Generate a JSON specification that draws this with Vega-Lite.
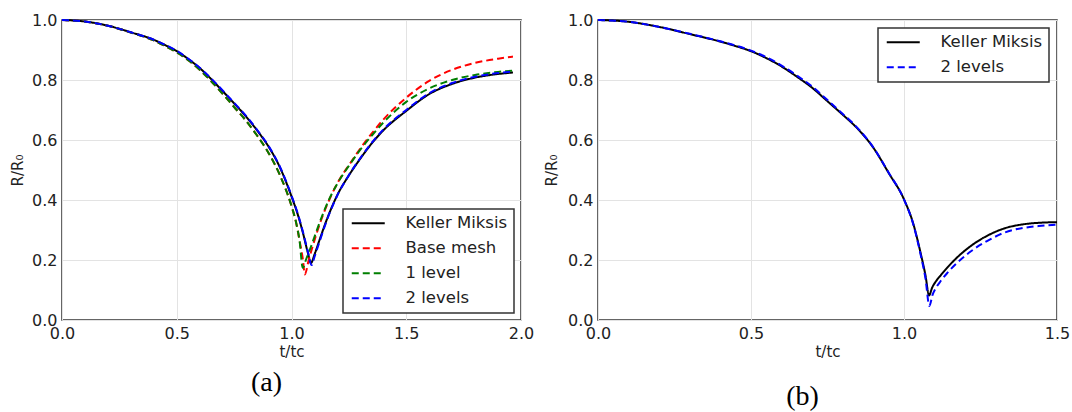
{
  "$schema": "https://vega.github.io/schema/vega-lite/v6.json",
  "background": "white",
  "padding": {"left": 9, "top": 11, "right": 5, "bottom": 2},
  "bounds": "flush",
  "spacing": 77,
  "datasets": {
    "left": [
      {"t": 0.0, "r": 1.0, "series": "Keller Miksis"},
      {"t": 0.1, "r": 0.995, "series": "Keller Miksis"},
      {"t": 0.2, "r": 0.981, "series": "Keller Miksis"},
      {"t": 0.3, "r": 0.959, "series": "Keller Miksis"},
      {"t": 0.4, "r": 0.934, "series": "Keller Miksis"},
      {"t": 0.45, "r": 0.916, "series": "Keller Miksis"},
      {"t": 0.5, "r": 0.896, "series": "Keller Miksis"},
      {"t": 0.55, "r": 0.870, "series": "Keller Miksis"},
      {"t": 0.6, "r": 0.840, "series": "Keller Miksis"},
      {"t": 0.65, "r": 0.803, "series": "Keller Miksis"},
      {"t": 0.7, "r": 0.763, "series": "Keller Miksis"},
      {"t": 0.75, "r": 0.722, "series": "Keller Miksis"},
      {"t": 0.8, "r": 0.680, "series": "Keller Miksis"},
      {"t": 0.85, "r": 0.632, "series": "Keller Miksis"},
      {"t": 0.9, "r": 0.578, "series": "Keller Miksis"},
      {"t": 0.95, "r": 0.508, "series": "Keller Miksis"},
      {"t": 1.0, "r": 0.412, "series": "Keller Miksis"},
      {"t": 1.03, "r": 0.345, "series": "Keller Miksis"},
      {"t": 1.05, "r": 0.29, "series": "Keller Miksis"},
      {"t": 1.07, "r": 0.228, "series": "Keller Miksis"},
      {"t": 1.085, "r": 0.19, "series": "Keller Miksis"},
      {"t": 1.1, "r": 0.218, "series": "Keller Miksis"},
      {"t": 1.12, "r": 0.262, "series": "Keller Miksis"},
      {"t": 1.15, "r": 0.327, "series": "Keller Miksis"},
      {"t": 1.2, "r": 0.417, "series": "Keller Miksis"},
      {"t": 1.25, "r": 0.482, "series": "Keller Miksis"},
      {"t": 1.3, "r": 0.538, "series": "Keller Miksis"},
      {"t": 1.35, "r": 0.589, "series": "Keller Miksis"},
      {"t": 1.4, "r": 0.632, "series": "Keller Miksis"},
      {"t": 1.5, "r": 0.697, "series": "Keller Miksis"},
      {"t": 1.6, "r": 0.753, "series": "Keller Miksis"},
      {"t": 1.7, "r": 0.787, "series": "Keller Miksis"},
      {"t": 1.8, "r": 0.808, "series": "Keller Miksis"},
      {"t": 1.9, "r": 0.820, "series": "Keller Miksis"},
      {"t": 1.965, "r": 0.825, "series": "Keller Miksis"},

      {"t": 0.0, "r": 1.0, "series": "Base mesh"},
      {"t": 0.1, "r": 0.995, "series": "Base mesh"},
      {"t": 0.2, "r": 0.981, "series": "Base mesh"},
      {"t": 0.3, "r": 0.958, "series": "Base mesh"},
      {"t": 0.4, "r": 0.932, "series": "Base mesh"},
      {"t": 0.45, "r": 0.913, "series": "Base mesh"},
      {"t": 0.5, "r": 0.892, "series": "Base mesh"},
      {"t": 0.55, "r": 0.866, "series": "Base mesh"},
      {"t": 0.6, "r": 0.834, "series": "Base mesh"},
      {"t": 0.65, "r": 0.796, "series": "Base mesh"},
      {"t": 0.7, "r": 0.754, "series": "Base mesh"},
      {"t": 0.75, "r": 0.710, "series": "Base mesh"},
      {"t": 0.8, "r": 0.666, "series": "Base mesh"},
      {"t": 0.85, "r": 0.615, "series": "Base mesh"},
      {"t": 0.9, "r": 0.557, "series": "Base mesh"},
      {"t": 0.95, "r": 0.482, "series": "Base mesh"},
      {"t": 1.0, "r": 0.38, "series": "Base mesh"},
      {"t": 1.02, "r": 0.325, "series": "Base mesh"},
      {"t": 1.035, "r": 0.265, "series": "Base mesh"},
      {"t": 1.05, "r": 0.20, "series": "Base mesh"},
      {"t": 1.058, "r": 0.152, "series": "Base mesh"},
      {"t": 1.075, "r": 0.20, "series": "Base mesh"},
      {"t": 1.09, "r": 0.24, "series": "Base mesh"},
      {"t": 1.13, "r": 0.335, "series": "Base mesh"},
      {"t": 1.17, "r": 0.41, "series": "Base mesh"},
      {"t": 1.2, "r": 0.456, "series": "Base mesh"},
      {"t": 1.26, "r": 0.527, "series": "Base mesh"},
      {"t": 1.3, "r": 0.572, "series": "Base mesh"},
      {"t": 1.35, "r": 0.622, "series": "Base mesh"},
      {"t": 1.4, "r": 0.668, "series": "Base mesh"},
      {"t": 1.5, "r": 0.741, "series": "Base mesh"},
      {"t": 1.6, "r": 0.797, "series": "Base mesh"},
      {"t": 1.7, "r": 0.834, "series": "Base mesh"},
      {"t": 1.8, "r": 0.857, "series": "Base mesh"},
      {"t": 1.9, "r": 0.871, "series": "Base mesh"},
      {"t": 1.965, "r": 0.878, "series": "Base mesh"},

      {"t": 0.0, "r": 1.0, "series": "1 level"},
      {"t": 0.1, "r": 0.995, "series": "1 level"},
      {"t": 0.2, "r": 0.981, "series": "1 level"},
      {"t": 0.3, "r": 0.958, "series": "1 level"},
      {"t": 0.4, "r": 0.932, "series": "1 level"},
      {"t": 0.45, "r": 0.913, "series": "1 level"},
      {"t": 0.5, "r": 0.892, "series": "1 level"},
      {"t": 0.55, "r": 0.866, "series": "1 level"},
      {"t": 0.6, "r": 0.834, "series": "1 level"},
      {"t": 0.65, "r": 0.796, "series": "1 level"},
      {"t": 0.7, "r": 0.754, "series": "1 level"},
      {"t": 0.75, "r": 0.710, "series": "1 level"},
      {"t": 0.8, "r": 0.666, "series": "1 level"},
      {"t": 0.85, "r": 0.615, "series": "1 level"},
      {"t": 0.9, "r": 0.557, "series": "1 level"},
      {"t": 0.95, "r": 0.482, "series": "1 level"},
      {"t": 1.0, "r": 0.38, "series": "1 level"},
      {"t": 1.02, "r": 0.325, "series": "1 level"},
      {"t": 1.035, "r": 0.265, "series": "1 level"},
      {"t": 1.049, "r": 0.174, "series": "1 level"},
      {"t": 1.065, "r": 0.205, "series": "1 level"},
      {"t": 1.085, "r": 0.245, "series": "1 level"},
      {"t": 1.13, "r": 0.34, "series": "1 level"},
      {"t": 1.17, "r": 0.412, "series": "1 level"},
      {"t": 1.2, "r": 0.455, "series": "1 level"},
      {"t": 1.26, "r": 0.525, "series": "1 level"},
      {"t": 1.3, "r": 0.568, "series": "1 level"},
      {"t": 1.35, "r": 0.615, "series": "1 level"},
      {"t": 1.4, "r": 0.658, "series": "1 level"},
      {"t": 1.5, "r": 0.727, "series": "1 level"},
      {"t": 1.6, "r": 0.772, "series": "1 level"},
      {"t": 1.7, "r": 0.800, "series": "1 level"},
      {"t": 1.8, "r": 0.817, "series": "1 level"},
      {"t": 1.9, "r": 0.827, "series": "1 level"},
      {"t": 1.965, "r": 0.831, "series": "1 level"},

      {"t": 0.0, "r": 1.0, "series": "2 levels"},
      {"t": 0.1, "r": 0.995, "series": "2 levels"},
      {"t": 0.2, "r": 0.981, "series": "2 levels"},
      {"t": 0.3, "r": 0.959, "series": "2 levels"},
      {"t": 0.4, "r": 0.934, "series": "2 levels"},
      {"t": 0.45, "r": 0.917, "series": "2 levels"},
      {"t": 0.5, "r": 0.897, "series": "2 levels"},
      {"t": 0.55, "r": 0.871, "series": "2 levels"},
      {"t": 0.6, "r": 0.841, "series": "2 levels"},
      {"t": 0.65, "r": 0.805, "series": "2 levels"},
      {"t": 0.7, "r": 0.765, "series": "2 levels"},
      {"t": 0.75, "r": 0.724, "series": "2 levels"},
      {"t": 0.8, "r": 0.682, "series": "2 levels"},
      {"t": 0.85, "r": 0.634, "series": "2 levels"},
      {"t": 0.9, "r": 0.580, "series": "2 levels"},
      {"t": 0.95, "r": 0.510, "series": "2 levels"},
      {"t": 1.0, "r": 0.415, "series": "2 levels"},
      {"t": 1.03, "r": 0.348, "series": "2 levels"},
      {"t": 1.05, "r": 0.293, "series": "2 levels"},
      {"t": 1.07, "r": 0.232, "series": "2 levels"},
      {"t": 1.088, "r": 0.183, "series": "2 levels"},
      {"t": 1.1, "r": 0.210, "series": "2 levels"},
      {"t": 1.12, "r": 0.256, "series": "2 levels"},
      {"t": 1.15, "r": 0.324, "series": "2 levels"},
      {"t": 1.2, "r": 0.416, "series": "2 levels"},
      {"t": 1.25, "r": 0.483, "series": "2 levels"},
      {"t": 1.3, "r": 0.540, "series": "2 levels"},
      {"t": 1.35, "r": 0.591, "series": "2 levels"},
      {"t": 1.4, "r": 0.635, "series": "2 levels"},
      {"t": 1.5, "r": 0.700, "series": "2 levels"},
      {"t": 1.6, "r": 0.756, "series": "2 levels"},
      {"t": 1.7, "r": 0.790, "series": "2 levels"},
      {"t": 1.8, "r": 0.811, "series": "2 levels"},
      {"t": 1.9, "r": 0.823, "series": "2 levels"},
      {"t": 1.965, "r": 0.828, "series": "2 levels"}
    ],
    "right": [
      {"t": 0.0, "r": 1.0, "series": "Keller Miksis"},
      {"t": 0.1, "r": 0.994, "series": "Keller Miksis"},
      {"t": 0.2, "r": 0.977, "series": "Keller Miksis"},
      {"t": 0.3, "r": 0.953, "series": "Keller Miksis"},
      {"t": 0.4, "r": 0.928, "series": "Keller Miksis"},
      {"t": 0.45, "r": 0.913, "series": "Keller Miksis"},
      {"t": 0.5, "r": 0.896, "series": "Keller Miksis"},
      {"t": 0.55, "r": 0.873, "series": "Keller Miksis"},
      {"t": 0.6, "r": 0.845, "series": "Keller Miksis"},
      {"t": 0.65, "r": 0.811, "series": "Keller Miksis"},
      {"t": 0.7, "r": 0.774, "series": "Keller Miksis"},
      {"t": 0.75, "r": 0.729, "series": "Keller Miksis"},
      {"t": 0.8, "r": 0.684, "series": "Keller Miksis"},
      {"t": 0.85, "r": 0.636, "series": "Keller Miksis"},
      {"t": 0.9, "r": 0.574, "series": "Keller Miksis"},
      {"t": 0.95, "r": 0.490, "series": "Keller Miksis"},
      {"t": 1.0, "r": 0.402, "series": "Keller Miksis"},
      {"t": 1.03, "r": 0.322, "series": "Keller Miksis"},
      {"t": 1.055, "r": 0.22, "series": "Keller Miksis"},
      {"t": 1.07, "r": 0.15, "series": "Keller Miksis"},
      {"t": 1.082, "r": 0.082, "series": "Keller Miksis"},
      {"t": 1.092, "r": 0.108, "series": "Keller Miksis"},
      {"t": 1.105, "r": 0.130, "series": "Keller Miksis"},
      {"t": 1.12, "r": 0.149, "series": "Keller Miksis"},
      {"t": 1.14, "r": 0.173, "series": "Keller Miksis"},
      {"t": 1.17, "r": 0.205, "series": "Keller Miksis"},
      {"t": 1.22, "r": 0.248, "series": "Keller Miksis"},
      {"t": 1.28, "r": 0.285, "series": "Keller Miksis"},
      {"t": 1.33, "r": 0.306, "series": "Keller Miksis"},
      {"t": 1.39, "r": 0.319, "series": "Keller Miksis"},
      {"t": 1.44, "r": 0.324, "series": "Keller Miksis"},
      {"t": 1.5, "r": 0.326, "series": "Keller Miksis"},

      {"t": 0.0, "r": 1.0, "series": "2 levels"},
      {"t": 0.1, "r": 0.994, "series": "2 levels"},
      {"t": 0.2, "r": 0.977, "series": "2 levels"},
      {"t": 0.3, "r": 0.954, "series": "2 levels"},
      {"t": 0.4, "r": 0.929, "series": "2 levels"},
      {"t": 0.45, "r": 0.915, "series": "2 levels"},
      {"t": 0.5, "r": 0.898, "series": "2 levels"},
      {"t": 0.55, "r": 0.876, "series": "2 levels"},
      {"t": 0.6, "r": 0.848, "series": "2 levels"},
      {"t": 0.65, "r": 0.815, "series": "2 levels"},
      {"t": 0.7, "r": 0.778, "series": "2 levels"},
      {"t": 0.75, "r": 0.733, "series": "2 levels"},
      {"t": 0.8, "r": 0.687, "series": "2 levels"},
      {"t": 0.85, "r": 0.638, "series": "2 levels"},
      {"t": 0.9, "r": 0.575, "series": "2 levels"},
      {"t": 0.95, "r": 0.491, "series": "2 levels"},
      {"t": 1.0, "r": 0.402, "series": "2 levels"},
      {"t": 1.03, "r": 0.320, "series": "2 levels"},
      {"t": 1.055, "r": 0.215, "series": "2 levels"},
      {"t": 1.07, "r": 0.14, "series": "2 levels"},
      {"t": 1.083, "r": 0.047, "series": "2 levels"},
      {"t": 1.093, "r": 0.083, "series": "2 levels"},
      {"t": 1.105, "r": 0.108, "series": "2 levels"},
      {"t": 1.12, "r": 0.130, "series": "2 levels"},
      {"t": 1.14, "r": 0.155, "series": "2 levels"},
      {"t": 1.17, "r": 0.187, "series": "2 levels"},
      {"t": 1.22, "r": 0.23, "series": "2 levels"},
      {"t": 1.28, "r": 0.268, "series": "2 levels"},
      {"t": 1.33, "r": 0.292, "series": "2 levels"},
      {"t": 1.39, "r": 0.307, "series": "2 levels"},
      {"t": 1.44, "r": 0.313, "series": "2 levels"},
      {"t": 1.5, "r": 0.318, "series": "2 levels"}
    ]
  },
  "hconcat": [
    {
      "width": 459,
      "height": 300,
      "title": {"text": "(a)", "orient": "bottom", "anchor": "middle", "dx": -25, "offset": 10},
      "data": {"name": "left"},
      "mark": {"type": "line", "strokeWidth": 2, "interpolate": "monotone"},
      "encoding": {
        "x": {"field": "t", "type": "quantitative", "title": "t/tc",
              "scale": {"domain": [0, 2], "nice": false},
              "axis": {"values": [0, 0.5, 1, 1.5, 2], "format": ".1f"}},
        "y": {"field": "r", "type": "quantitative", "title": "R/R₀",
              "scale": {"domain": [0, 1], "nice": false},
              "axis": {"values": [0, 0.2, 0.4, 0.6, 0.8, 1.0], "format": ".1f", "titlePadding": 6}},
        "color": {"field": "series", "type": "nominal", "title": null,
                  "scale": {"domain": ["Keller Miksis", "Base mesh", "1 level", "2 levels"], "range": ["#000000", "#ff0000", "#007f00", "#0000ff"]},
                  "legend": {"orient": "bottom-right", "offset": 7}},
        "strokeDash": {"field": "series", "type": "nominal", "title": null,
                  "scale": {"domain": ["Keller Miksis", "Base mesh", "1 level", "2 levels"], "range": [[1, 0], [7, 4], [7, 4], [7, 4]]},
                  "legend": {"orient": "bottom-right", "offset": 7}}
      }
    },
    {
      "width": 459,
      "height": 300,
      "title": {"text": "(b)", "orient": "bottom", "anchor": "middle", "dx": -25, "offset": 24},
      "data": {"name": "right"},
      "mark": {"type": "line", "strokeWidth": 2, "interpolate": "monotone"},
      "encoding": {
        "x": {"field": "t", "type": "quantitative", "title": "t/tc",
              "scale": {"domain": [0, 1.5], "nice": false},
              "axis": {"values": [0, 0.5, 1, 1.5], "format": ".1f"}},
        "y": {"field": "r", "type": "quantitative", "title": "R/R₀",
              "scale": {"domain": [0, 1], "nice": false},
              "axis": {"values": [0, 0.2, 0.4, 0.6, 0.8, 1.0], "format": ".1f", "titlePadding": 8}},
        "color": {"field": "series", "type": "nominal", "title": null,
                  "scale": {"domain": ["Keller Miksis", "2 levels"], "range": ["#000000", "#0000ff"]},
                  "legend": {"orient": "top-right", "offset": 8}},
        "strokeDash": {"field": "series", "type": "nominal", "title": null,
                  "scale": {"domain": ["Keller Miksis", "2 levels"], "range": [[1, 0], [7, 4]]},
                  "legend": {"orient": "top-right", "offset": 8}}
      }
    }
  ],
  "resolve": {"scale": {"color": "independent", "strokeDash": "independent", "x": "independent", "y": "independent"}, "legend": {"color": "independent", "strokeDash": "independent"}},
  "config": {
    "font": "DejaVu Sans",
    "view": {"stroke": "#333333", "strokeWidth": 1.5},
    "axis": {
      "domain": false, "ticks": false, "grid": true, "gridColor": "#e3e3e3", "gridWidth": 1,
      "labelFont": "DejaVu Sans", "labelFontSize": 16, "labelColor": "#222222", "labelPadding": 5,
      "labelOverlap": false, "labelBound": false, "labelFlush": false,
      "titleFont": "DejaVu Sans", "titleFontSize": 15, "titleFontWeight": "normal", "titleColor": "#222222", "titlePadding": 3
    },
    "legend": {
      "labelFont": "DejaVu Sans", "labelFontSize": 16.5, "labelColor": "#222222", "labelOffset": 40,
      "symbolType": "M-1,0H5", "symbolSize": 121, "symbolStrokeWidth": 2, "rowPadding": 8,
      "strokeColor": "#333333", "strokeWidth": 1.5, "fillColor": "white", "padding": 6, "cornerRadius": 0
    },
    "title": {"font": "Liberation Serif", "fontSize": 28, "fontWeight": "normal", "color": "#000000", "frame": "group"}
  }
}
